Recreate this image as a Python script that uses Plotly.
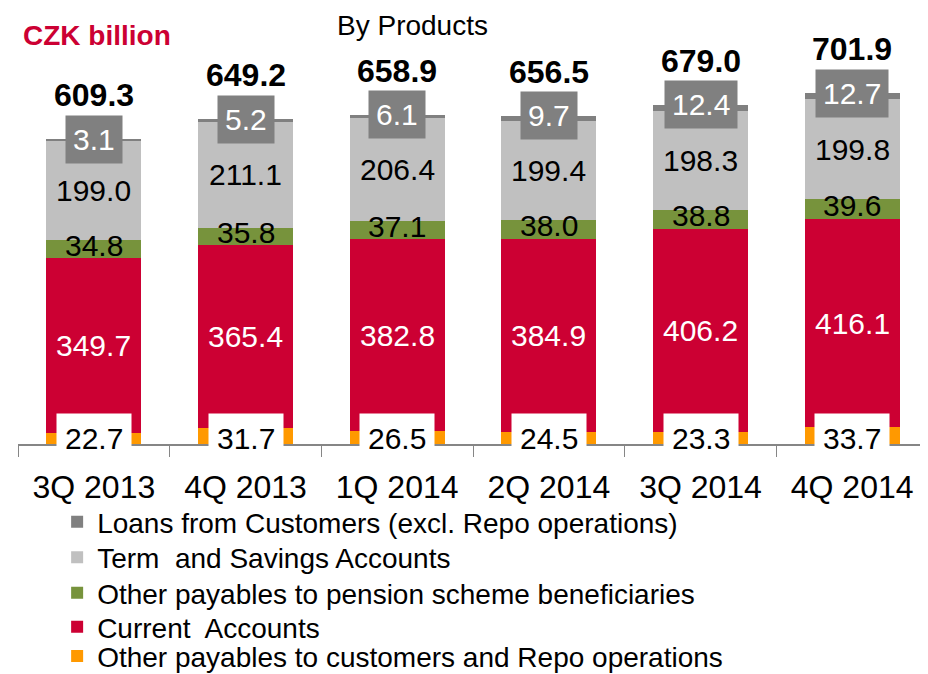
import plotly.graph_objects as go

quarters = ["3Q 2013", "4Q 2013", "1Q 2014", "2Q 2014", "3Q 2014", "4Q 2014"]
other_repo = [22.7, 31.7, 26.5, 24.5, 23.3, 33.7]
current_acc = [349.7, 365.4, 382.8, 384.9, 406.2, 416.1]
pension = [34.8, 35.8, 37.1, 38.0, 38.8, 39.6]
term_savings = [199.0, 211.1, 206.4, 199.4, 198.3, 199.8]
loans = [3.1, 5.2, 6.1, 9.7, 12.4, 12.7]
totals = [609.3, 649.2, 658.9, 656.5, 679.0, 701.9]

series = [
    ("Other payables to customers and Repo operations", other_repo, "#FF9900"),
    ("Current  Accounts", current_acc, "#CC0033"),
    ("Other payables to pension scheme beneficiaries", pension, "#77933C"),
    ("Term  and Savings Accounts", term_savings, "#C0C0C0"),
    ("Loans from Customers (excl. Repo operations)", loans, "#808080"),
]
# legend row (paper y) for each series, top row = loans
legend_rows = [-0.494, -0.4256, -0.3465, -0.264, -0.1814]
legend_ids = ["legend5", "legend4", "legend3", "legend2", "legend"]

FONT = "Liberation Sans, Arial, sans-serif"
LBL = 30
fig = go.Figure()
for (name, vals, col), lid in zip(series, legend_ids):
    fig.add_trace(go.Bar(x=quarters, y=vals, name=name, marker=dict(color=col, line=dict(width=0)),
                         width=0.626, hoverinfo="skip", legend=lid))

ann = []
base = [0.0] * len(quarters)
for idx, (name, vals, col) in enumerate(series):
    for i, q in enumerate(quarters):
        mid = base[i] + vals[i] / 2
        txt = f"{vals[i]:.1f}"
        if idx == 0:
            ann.append(dict(x=q, y=0, text=txt, showarrow=False, yanchor="middle", yshift=6,
                            font=dict(size=LBL, color="black", family=FONT), bgcolor="white", borderpad=8))
        elif idx == 1:
            ann.append(dict(x=q, y=mid, text=txt, showarrow=False, yanchor="middle",
                            font=dict(size=LBL, color="white", family=FONT)))
        elif idx == 2:
            ann.append(dict(x=q, y=mid, text=txt, showarrow=False, yanchor="middle", yshift=4,
                            font=dict(size=LBL, color="black", family=FONT)))
        elif idx == 3:
            ann.append(dict(x=q, y=mid, text=txt, showarrow=False, yanchor="middle",
                            font=dict(size=LBL, color="black", family=FONT)))
        else:
            ann.append(dict(x=q, y=base[i] + vals[i], text=txt, showarrow=False, yanchor="middle",
                            font=dict(size=LBL, color="white", family=FONT), bgcolor="#808080", borderpad=7))
        base[i] += vals[i]

for i, q in enumerate(quarters):
    ann.append(dict(x=q, y=totals[i], text=f"<b>{totals[i]:.1f}</b>", showarrow=False, yanchor="middle",
                    yshift=44, font=dict(size=32, color="black", family=FONT)))

ann.append(dict(xref="paper", yref="paper", x=0.003, y=0.949, xanchor="left", yanchor="middle",
                text="<b>CZK billion</b>", showarrow=False, font=dict(size=28, color="#CC0033", family=FONT)))
ann.append(dict(xref="paper", yref="paper", x=0.433, y=0.974, xanchor="center", yanchor="middle",
                text="By Products", showarrow=False, font=dict(size=28, color="black", family=FONT)))

layout_legends = {}
for lid, ly in zip(legend_ids, legend_rows):
    layout_legends[lid] = dict(x=0.043, y=ly, xanchor="left", yanchor="middle",
                               font=dict(size=28, color="black", family=FONT),
                               bgcolor="rgba(0,0,0,0)", itemwidth=30)

fig.update_layout(
    width=928, height=674,
    margin=dict(l=10, r=8, t=6, b=238, autoexpand=False),
    barmode="stack",
    plot_bgcolor="white", paper_bgcolor="white",
    font=dict(family=FONT, color="black"),
    annotations=ann,
    showlegend=True,
    xaxis=dict(showline=True, linecolor="#868686", linewidth=1.5, ticks="outside", ticklen=11,
               tickcolor="#868686", tickson="boundaries", tickfont=dict(size=32, color="black", family=FONT),
               showgrid=False, zeroline=False, ticklabelstandoff=14, automargin=False),
    yaxis=dict(range=[0, 860], visible=False, showgrid=False, zeroline=False, automargin=False),
    **layout_legends,
)

fig.write_html("out.html")
